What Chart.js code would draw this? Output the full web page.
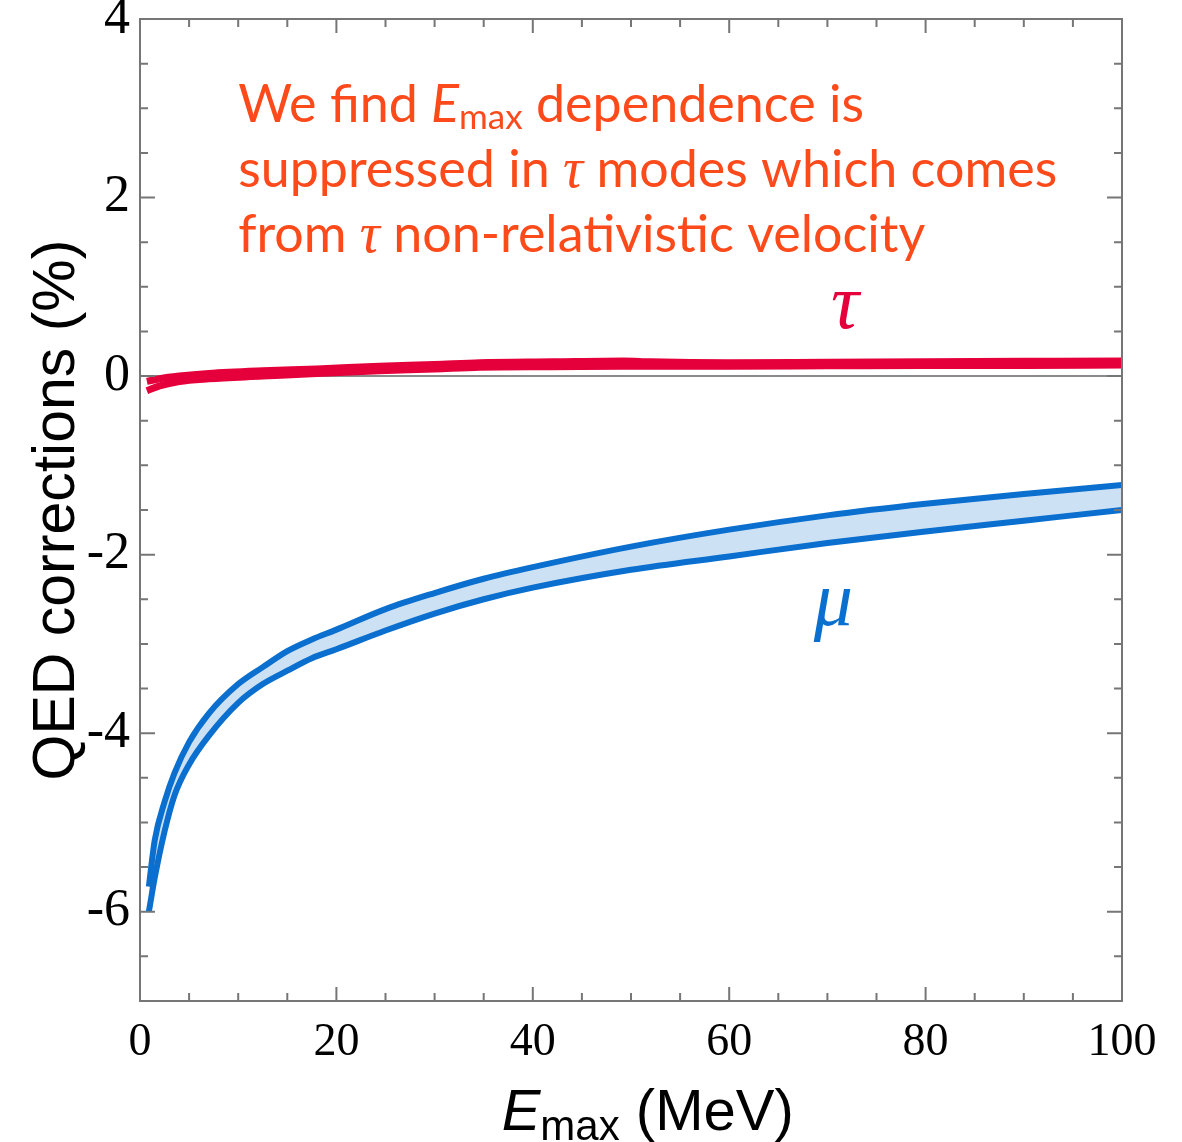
<!DOCTYPE html>
<html>
<head>
<meta charset="utf-8">
<title>QED corrections vs Emax</title>
<script src="https://cdn.jsdelivr.net/npm/chart.js@4.4.1/dist/chart.umd.min.js"></script>
<style>
  html, body { margin: 0; padding: 0; background: #fff; }
  #chart { display: block; }
</style>
</head>
<body>
<canvas id="chart" width="1182" height="1142"></canvas>
<script>
// values: E_max in MeV, corrections in %
const muX = [0.9, 1.5, 2.5, 3.5, 5, 7, 10, 12.5, 15, 17.5, 20, 25, 30, 35, 40, 50, 60, 70, 80, 90, 100];
const muUpper = [-5.72, -5.2, -4.77, -4.45, -4.1, -3.78, -3.45, -3.26, -3.08, -2.95, -2.84, -2.61, -2.43, -2.27, -2.14, -1.91, -1.72, -1.56, -1.43, -1.32, -1.22];
const muLower = [-6.0, -5.62, -5.1, -4.7, -4.35, -4.03, -3.66, -3.45, -3.3, -3.16, -3.06, -2.85, -2.66, -2.5, -2.37, -2.17, -2.02, -1.87, -1.74, -1.62, -1.5];

const tauX = [0.7, 2, 4, 7, 12.5, 18, 24.4, 30, 34.6, 42, 49.2, 52, 60, 70, 80, 90, 100];
const tauUpper = [-0.06, -0.03, 0.0, 0.03, 0.06, 0.08, 0.11, 0.13, 0.15, 0.16, 0.17, 0.16, 0.15, 0.155, 0.16, 0.165, 0.17];
const tauLower = [-0.165, -0.11, -0.06, -0.03, 0.0, 0.03, 0.06, 0.08, 0.1, 0.105, 0.11, 0.11, 0.11, 0.115, 0.12, 0.12, 0.125];

const xTicks = [0, 20, 40, 60, 80, 100];
const yTicks = [-6, -4, -2, 0, 2, 4];

const BLUE = "#0a6fce";
const BLUE_FILL = "#cde1f4";
const RED = "#e5003b";
const NOTE = "#fc4a1a";
const AXIS = "#767676";

const SANS = "'Liberation Sans', Arial, sans-serif";
const SERIF = "'Liberation Serif', 'Times New Roman', serif";
const NOTE_FONT = "Lato, 'Open Sans', sans-serif";

function pts(xs, ys) {
    return xs.map((x, i) => ({ x: x, y: ys[i] }));
}

// draw a row of text pieces with different fonts, left to right
function drawRuns(ctx, runs, x, y) {
    runs.forEach(r => {
        ctx.font = r.font;
        ctx.fillText(r.text, x, y + (r.dy || 0));
        x += ctx.measureText(r.text).width;
    });
    return x;
}
function runsWidth(ctx, runs) {
    let w = 0;
    runs.forEach(r => { ctx.font = r.font; w += ctx.measureText(r.text).width; });
    return w;
}

const noteLines = [
    [
        { text: "We find ", font: "52px " + NOTE_FONT },
        { text: "E", font: "italic 52px " + NOTE_FONT },
        { text: "max", font: "35px " + NOTE_FONT, dy: 7 },
        { text: " dependence is", font: "52px " + NOTE_FONT }
    ],
    [
        { text: "suppressed in ", font: "52px " + NOTE_FONT },
        { text: "τ", font: "italic 56px " + SERIF },
        { text: " modes which comes", font: "52px " + NOTE_FONT }
    ],
    [
        { text: "from ", font: "52px " + NOTE_FONT },
        { text: "τ", font: "italic 56px " + SERIF },
        { text: " non-relativistic velocity", font: "52px " + NOTE_FONT }
    ]
];
const noteX = 10;
const noteBaselines = [2.85, 2.12, 1.39];

const decor = {
    id: "decor",
    beforeDatasetsDraw(chart) {
        const { ctx, chartArea: a, scales: { y } } = chart;
        const y0 = y.getPixelForValue(0);
        ctx.save();
        ctx.strokeStyle = "#8a8a8a";
        ctx.lineWidth = 2;
        ctx.beginPath();
        ctx.moveTo(a.left, y0);
        ctx.lineTo(a.right, y0);
        ctx.stroke();
        ctx.restore();
    },
    afterDraw(chart) {
        const { ctx, chartArea: a, scales: { x, y } } = chart;
        ctx.save();

        // frame with inward ticks on all four sides
        ctx.strokeStyle = AXIS;
        ctx.lineWidth = 2;
        ctx.strokeRect(a.left, a.top, a.right - a.left, a.bottom - a.top);
        ctx.beginPath();
        for (let v = x.min; v <= x.max + 1e-9; v += 5) {
            const px = x.getPixelForValue(v);
            const len = v % 20 === 0 ? 14 : 8;
            ctx.moveTo(px, a.bottom); ctx.lineTo(px, a.bottom - len);
            ctx.moveTo(px, a.top); ctx.lineTo(px, a.top + len);
        }
        for (let v = y.min; v <= y.max + 1e-9; v += 0.5) {
            const py = y.getPixelForValue(v);
            const len = Math.abs(v % 2) < 1e-9 ? 15 : 8;
            ctx.moveTo(a.left, py); ctx.lineTo(a.left + len, py);
            ctx.moveTo(a.right, py); ctx.lineTo(a.right - len, py);
        }
        ctx.stroke();

        // annotation
        ctx.fillStyle = NOTE;
        ctx.textAlign = "left";
        ctx.textBaseline = "alphabetic";
        noteLines.forEach((line, i) => {
            drawRuns(ctx, line, x.getPixelForValue(noteX), y.getPixelForValue(noteBaselines[i]));
        });

        // curve labels
        ctx.textAlign = "center";
        ctx.font = "italic 78px " + SERIF;
        ctx.fillStyle = RED;
        ctx.fillText("τ", x.getPixelForValue(71.8), y.getPixelForValue(0.54));
        ctx.fillStyle = BLUE;
        ctx.fillText("μ", x.getPixelForValue(70.6), y.getPixelForValue(-2.79));

        // y axis title
        ctx.fillStyle = "#000";
        ctx.save();
        ctx.translate(74, (a.top + a.bottom) / 2);
        ctx.rotate(-Math.PI / 2);
        ctx.font = "59px " + SANS;
        ctx.fillText("QED corrections (%)", 0, 0);
        ctx.restore();

        // x axis title: E_max (MeV)
        const title = [
            { text: "E", font: "italic 58px " + SANS },
            { text: "max", font: "42px " + SANS, dy: 10 },
            { text: " (MeV)", font: "58px " + SANS }
        ];
        ctx.textAlign = "left";
        const w = runsWidth(ctx, title);
        drawRuns(ctx, title, x.getPixelForValue(51.7) - w / 2, 1130);

        ctx.restore();
    }
};

new Chart(document.getElementById("chart"), {
    type: "line",
    data: {
        datasets: [
            {
                label: "tau upper",
                data: pts(tauX, tauUpper),
                borderColor: RED,
                borderWidth: 7,
                fill: false
            },
            {
                label: "tau lower",
                data: pts(tauX, tauLower),
                borderColor: RED,
                borderWidth: 7,
                fill: false
            },
            {
                label: "mu lower",
                data: pts(muX, muLower),
                borderColor: BLUE,
                borderWidth: 6,
                fill: false
            },
            {
                label: "mu upper",
                data: pts(muX, muUpper),
                borderColor: BLUE,
                backgroundColor: BLUE_FILL,
                borderWidth: 6,
                fill: "-1"
            }
        ]
    },
    options: {
        responsive: false,
        animation: false,
        layout: { padding: { top: 19, right: 60, left: 0, bottom: 0 } },
        elements: {
            point: { radius: 0, hoverRadius: 0 },
            line: { cubicInterpolationMode: "monotone", borderCapStyle: "butt" }
        },
        plugins: {
            legend: { display: false },
            tooltip: { enabled: false }
        },
        scales: {
            x: {
                type: "linear",
                min: 0,
                max: 100,
                grid: { display: false, drawTicks: false },
                border: { display: false },
                afterBuildTicks: s => { s.ticks = xTicks.map(v => ({ value: v })); },
                afterFit: s => { s.height = 141; s.paddingLeft = 0; s.paddingRight = 0; },
                ticks: {
                    color: "#000",
                    padding: 14,
                    maxRotation: 0,
                    font: { family: SERIF, size: 46 }
                }
            },
            y: {
                type: "linear",
                min: -7,
                max: 4,
                grid: { display: false, drawTicks: false },
                border: { display: false },
                afterBuildTicks: s => { s.ticks = yTicks.map(v => ({ value: v })); },
                afterFit: s => { s.width = 140; s.paddingTop = 0; s.paddingBottom = 0; },
                ticks: {
                    color: "#000",
                    padding: 10,
                    font: { family: SERIF, size: 52 }
                }
            }
        }
    },
    plugins: [decor]
});
</script>
</body>
</html>
